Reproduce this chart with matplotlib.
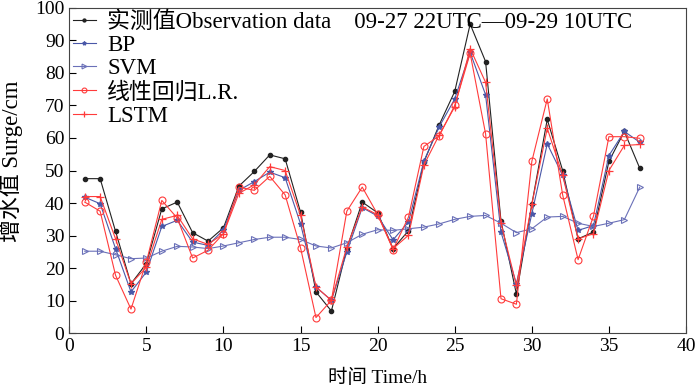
import matplotlib
matplotlib.use('Agg')
import matplotlib.pyplot as plt

plt.rcParams['font.family'] = ['Liberation Serif', 'Noto Sans CJK SC', 'DejaVu Sans']

# 时间步
hours = list(range(1, 38))

# 实测值
obs = [47.5, 47.5, 31.3, 15.2, 21.4, 38.2, 40.3, 30.9, 28.3, 32.4,
       45.2, 49.7, 54.8, 53.6, 37.2, 12.7, 6.8, 26.0, 40.3, 37.0,
       26.0, 31.5, 52.6, 64.1, 74.3, 95.0, 83.5, 34.5, 12.0, 39.6,
       65.7, 50.0, 29.0, 31.1, 52.8, 62.0, 50.7]

# BP
bp = [41.8, 39.8, 26.0, 12.7, 18.8, 32.8, 34.7, 28.0, 27.0, 31.8,
      43.9, 46.6, 49.5, 47.8, 33.6, 14.2, 10.1, 24.9, 38.6, 36.0,
      28.7, 34.2, 52.9, 63.5, 72.0, 86.3, 73.3, 31.1, 15.2, 36.7,
      58.2, 48.5, 31.6, 33.1, 54.6, 62.0, 58.7]

# SVM
svm = [25.2, 25.2, 24.1, 22.9, 23.1, 25.2, 26.7, 26.5, 26.0, 26.8,
       27.8, 28.8, 29.5, 29.5, 28.8, 26.8, 26.2, 27.8, 30.4, 31.8,
       31.6, 32.1, 32.6, 33.6, 35.0, 35.9, 36.2, 33.8, 30.9, 32.1,
       35.7, 35.9, 33.8, 32.8, 33.8, 34.9, 44.9]

# 线性回归
lr = [40.3, 37.5, 17.8, 7.4, 21.9, 40.8, 35.4, 23.1, 25.5, 30.6,
      44.9, 43.9, 48.2, 42.5, 26.2, 4.8, 10.1, 37.5, 44.9, 36.5,
      25.7, 35.7, 57.4, 60.7, 70.0, 86.0, 61.3, 10.6, 8.9, 52.8,
      72.0, 42.5, 22.6, 36.0, 60.4, 60.4, 59.9]

# LSTM
lstm = [42.0, 42.0, 29.0, 15.2, 20.3, 35.0, 36.2, 29.0, 27.3, 30.6,
        43.0, 45.6, 51.2, 50.0, 36.2, 14.2, 10.1, 26.5, 38.8, 36.4,
        26.0, 30.1, 51.7, 61.0, 69.6, 87.5, 77.1, 33.8, 14.7, 39.6,
        63.0, 48.5, 29.0, 30.6, 50.0, 57.7, 58.0]

fig = plt.figure(figsize=(7, 3.92), dpi=100)
ax = fig.add_axes([0.099, 0.15, 0.881, 0.83])

ax.plot(hours, obs, color='#222222', lw=0.8, marker='o', ms=3,
        label='实测值Observation data    09-27 22UTC—09-29 10UTC')
ax.plot(hours, bp, color='#4a58a8', lw=0.8, marker='*', ms=4, label='BP')
ax.plot(hours, svm, color='#6a70b8', lw=0.8, marker='>', ms=5,
        mfc='none', mew=0.8, label='SVM')
ax.plot(hours, lr, color='#ff3b3b', lw=0.8, marker='o', ms=5,
        mfc='none', mew=0.8, label='线性回归L.R.')
ax.plot(hours, lstm, color='#ff3b3b', lw=0.8, marker='+', ms=6,
        mew=0.9, label='LSTM')

ax.set_xlim(0, 40)
ax.set_ylim(0, 100)
ax.set_xticks(range(0, 41, 5))
ax.set_yticks(range(0, 101, 10))
ax.tick_params(direction='in', labelsize=14, length=5)
for s in ax.spines.values():
    s.set_color('#444444')

ax.set_xlabel('时间 Time/h', fontsize=14, labelpad=10)
ax.set_ylabel('增水值 Surge/cm', fontsize=16.5, labelpad=6)
ax.yaxis.set_label_coords(-0.075, 0.53)

leg = ax.legend(loc='upper left', frameon=False, fontsize=16.5,
                handlelength=1.0, handletextpad=0.5, labelspacing=0.1,
                borderaxespad=0.1, borderpad=0.05, markerscale=0.7)

fig.savefig('out.png', dpi=100)
